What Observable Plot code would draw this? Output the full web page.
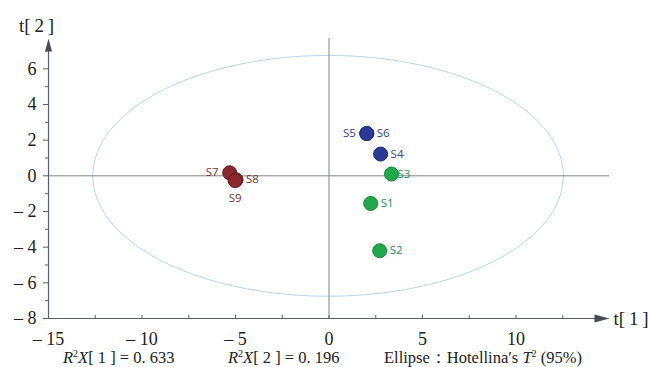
<!DOCTYPE html>
<html><head><meta charset="utf-8">
<script src="https://cdn.jsdelivr.net/npm/d3@7"></script>
<script src="https://cdn.jsdelivr.net/npm/@observablehq/plot@0.6"></script>
<style>
body{margin:0;background:#fff;}
#wrap{position:relative;width:648px;height:367px;}
#cap{position:absolute;left:0;top:350px;width:648px;height:17px;font-family:"Liberation Serif",serif;font-size:16.5px;color:#222;line-height:16px;}
#cap span{position:absolute;top:0;white-space:nowrap;}
sup{font-size:10px;vertical-align:6px;line-height:0;}
</style>
</head><body>
<div id="wrap"><div id="chart"></div>
<div id="cap">
<span style="left:63px"><i>R</i><sup>2</sup><i>X</i>[ 1 ] = 0. 633</span>
<span style="left:228px"><i>R</i><sup>2</sup><i>X</i>[ 2 ] = 0. 196</span>
<span style="left:384px">Ellipse：Hotellina′s <i>T</i><sup>2</sup> (95%)</span>
</div></div>
<script>
// Data
const names  = ["S1","S2","S3","S4","S5","S6","S7","S8","S9"];
const t1     = [2.23, 2.71, 3.34, 2.76, 2.02, 2.02, -5.31, -4.97, -5.02];
const t2     = [-1.55, -4.20, 0.10, 1.22, 2.37, 2.37, 0.17, -0.22, -0.27];
const groups = ["g","g","g","b","b","b","r","r","r"];
const labelSide = ["r","r","rs","r","l","r","l","r","b"];
const xMajorTicks = [-15,-10,-5,0,5,10];
const xMinorTicks = [-15,-12.5,-10,-7.5,-5,-2.5,0,2.5,5,7.5,10,12.5];
const yMajorTicks = [-8,-6,-4,-2,0,2,4,6];
const yMinorTicks = [-7,-5,-3,-1,1,3,5,7];
const ellipseCenter = [-0.05, 0];
const ellipseRadii = [12.58, 6.75];

const fill = {g:"#1fa84c", b:"#2b3a98", r:"#8a2830"};
const edge = {g:"#168a3c", b:"#1d2a78", r:"#5e1a1e"};
const lab  = {g:"#1d8a5a", b:"#34438c", r:"#7a3036"};

const pts = names.map((n,i)=>({name:n, x:t1[i], y:t2[i], g:groups[i], side:labelSide[i]}));
const ell = d3.range(0, 361, 2).map(a => ({
  x: ellipseCenter[0] + ellipseRadii[0]*Math.cos(a*Math.PI/180),
  y: ellipseCenter[1] + ellipseRadii[1]*Math.sin(a*Math.PI/180)
}));

const fmt = d => d < 0 ? "\u2013 " + Math.abs(d) : String(d);
const serif = "Liberation Serif, Times New Roman, serif";
const axisCol = "#5a6066";

const arrowRight = {draw(c){ c.moveTo(0,0); c.lineTo(-15,-4); c.lineTo(-15,4); c.closePath(); }};
const arrowUp = {draw(c){ c.moveTo(0,0); c.lineTo(-3.5,13); c.lineTo(3.5,13); c.closePath(); }};

const labelMark = (side, opts) => Plot.text(pts.filter(p=>p.side===side), {
  x:"x", y:"y", text:"name", fill: d=>lab[d.g],
  fontFamily:"Open Sans, Noto Sans, sans-serif", fontSize:11.5, ...opts
});

const chart = Plot.plot({
  width:648, height:367,
  marginLeft:48, marginRight:39, marginTop:38, marginBottom:49,
  x:{domain:[-15,15], axis:null},
  y:{domain:[-8,7.7], axis:null},
  style:{background:"#fff"},
  marks:[
    Plot.line(ell, {x:"x", y:"y", stroke:"#a3cde0", strokeWidth:0.8}),
    Plot.ruleY([0], {x1:-15, x2:15, stroke:"#7e8489", strokeWidth:1}),
    Plot.ruleX([0], {y1:-8, y2:7.7, stroke:"#7e8489", strokeWidth:1}),
    Plot.ruleY([-8], {x1:-15, x2:14.3, stroke:axisCol, strokeWidth:1.2}),
    Plot.ruleX([-15], {y1:-8, y2:7.2, stroke:axisCol, strokeWidth:1.2}),
    Plot.dot([{x:15,y:-8}], {x:"x", y:"y", symbol:arrowRight, fill:"#444c54", stroke:"none"}),
    Plot.dot([{x:-15,y:7.7}], {x:"x", y:"y", symbol:arrowUp, fill:"#444c54", stroke:"none"}),
    Plot.axisX({ticks:xMinorTicks, anchor:"bottom", label:null, tickSize:-3, tickFormat:()=>"", stroke:axisCol}),
    Plot.axisX({ticks:xMajorTicks, anchor:"bottom", label:null, tickSize:0, tickPadding:14, tickFormat:fmt,
      fontSize:18, fontFamily:serif, fill:"#222"}),
    Plot.axisY({ticks:yMinorTicks, anchor:"left", label:null, tickSize:3, tickFormat:()=>"", stroke:axisCol}),
    Plot.axisY({ticks:yMajorTicks, anchor:"left", label:null, tickSize:5, tickPadding:7, tickFormat:fmt,
      fontSize:18, fontFamily:serif, fill:"#222", stroke:axisCol}),
    Plot.text(["t[\u20091\u2009]"], {x:15, y:-8, text:d=>d, dx:4, textAnchor:"start", lineAnchor:"middle",
      fontSize:19, fontFamily:serif, fill:"#222"}),
    Plot.text(["t[\u20092\u2009]"], {x:-15, y:7.7, text:d=>d, dx:-12, dy:-13, textAnchor:"middle", lineAnchor:"middle",
      fontSize:19, fontFamily:serif, fill:"#222"}),
    Plot.dot(pts, {x:"x", y:"y", r:7, fill:d=>fill[d.g], stroke:d=>edge[d.g], strokeWidth:1}),
    labelMark("r", {dx:10, textAnchor:"start"}),
    labelMark("rs", {dx:6, textAnchor:"start"}),
    labelMark("l", {dx:-11, textAnchor:"end"}),
    labelMark("b", {dy:18, textAnchor:"middle"})
  ]
});
document.getElementById("chart").appendChild(chart);
</script>
</body></html>
